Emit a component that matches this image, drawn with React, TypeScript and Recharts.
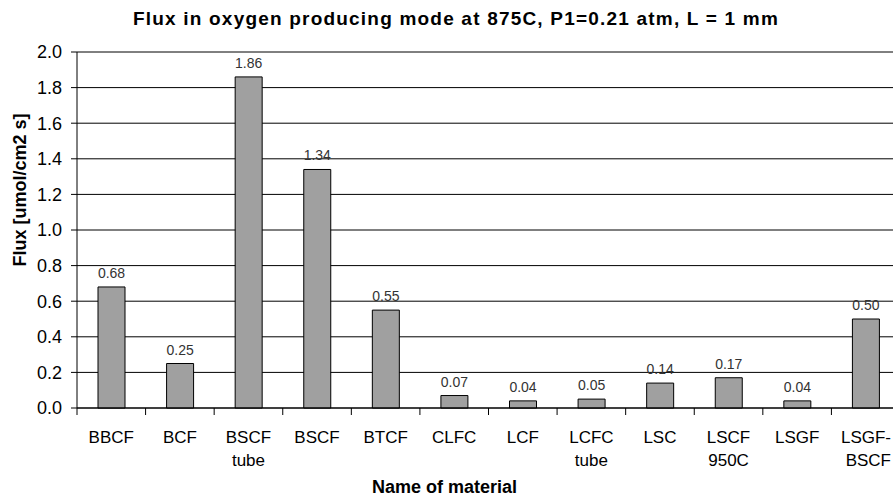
import { BarChart, Bar, XAxis, YAxis, CartesianGrid, LabelList, ReferenceLine } from 'recharts'

const materials = ['BBCF', 'BCF', 'BSCF\ntube', 'BSCF', 'BTCF', 'CLFC', 'LCF', 'LCFC\ntube', 'LSC', 'LSCF\n950C', 'LSGF', 'LSGF-\nBSCF']
const flux = [0.68, 0.25, 1.86, 1.34, 0.55, 0.07, 0.04, 0.05, 0.14, 0.17, 0.04, 0.5]
const yTicks = [0, 0.2, 0.4, 0.6, 0.8, 1.0, 1.2, 1.4, 1.6, 1.8, 2.0]

const chartData = materials.map((name, i) => ({ name, flux: flux[i] }))

const FONT = '"Liberation Sans", Arial, sans-serif'

// category labels sit under the bars, tick marks go on the category boundaries
function MaterialTick(props: any) {
  const { x, y, payload, width, visibleTicksCount, index } = props
  const bw = width / visibleTicksCount
  const lines = String(payload.value).split('\n')
  // the last label is pushed in so it stays inside the picture
  const last = index === visibleTicksCount - 1
  return (
    <g>
      <line x1={x - bw / 2} x2={x - bw / 2} y1={y} y2={y + 7} stroke="#000" />
      {lines.map((l, i) => (
        <text
          key={i}
          x={last ? 891 : x}
          y={y + 35 + i * 23}
          textAnchor={last ? 'end' : 'middle'}
          fontSize={17}
          fill="#000"
          fontFamily={FONT}
        >
          {l}
        </text>
      ))}
    </g>
  )
}

export default function App() {
  return (
    <div style={{ position: 'relative', width: 893, height: 500, overflow: 'hidden', fontFamily: FONT }}>
      <style>{'body{margin:0;overflow:hidden}'}</style>
      <div style={{ position: 'absolute', left: 0, top: 9, width: 912, textAlign: 'center', fontSize: 19, fontWeight: 'bold', lineHeight: '19px', letterSpacing: 1.2, whiteSpace: 'nowrap' }}>
        Flux in oxygen producing mode at 875C, P1=0.21 atm, L = 1 mm
      </div>
      <div style={{ position: 'absolute', left: 0, top: 478, width: 889, textAlign: 'center', fontSize: 18, fontWeight: 'bold', lineHeight: '18px' }}>
        Name of material
      </div>
      <div style={{ position: 'absolute', left: 20, top: 190, width: 0, height: 0 }}>
        <div style={{ position: 'absolute', transform: 'translate(-50%, -50%) rotate(-90deg)', whiteSpace: 'nowrap', fontSize: 18, fontWeight: 'bold', lineHeight: '18px' }}>
          Flux [umol/cm2 s]
        </div>
      </div>
      <BarChart
        width={900}
        height={500}
        data={chartData}
        margin={{ top: 52, right: 0, bottom: 0, left: 0 }}
        barSize={27}
      >
        <CartesianGrid horizontal vertical={false} stroke="#000" />
        <ReferenceLine y={2} stroke="#808080" />
        <XAxis
          dataKey="name"
          interval={0}
          height={92}
          tickLine={false}
          tickSize={0}
          tickMargin={0}
          axisLine={{ stroke: '#000' }}
          tick={<MaterialTick />}
        />
        <YAxis
          width={77}
          domain={[0, 2]}
          ticks={yTicks}
          tickFormatter={(v) => Number(v).toFixed(1)}
          tickSize={6}
          tickMargin={9}
          axisLine={{ stroke: '#000' }}
          tickLine={{ stroke: '#000' }}
          tick={{ fontSize: 18, fill: '#000', fontFamily: FONT }}
        />
        <Bar dataKey="flux" fill="#a0a0a0" stroke="#000" strokeWidth={1} isAnimationActive={false}>
          <LabelList
            dataKey="flux"
            position="top"
            offset={9}
            formatter={(v: any) => Number(v).toFixed(2)}
            style={{ fontSize: 14, fill: '#333', fontFamily: FONT }}
          />
        </Bar>
      </BarChart>
    </div>
  )
}
